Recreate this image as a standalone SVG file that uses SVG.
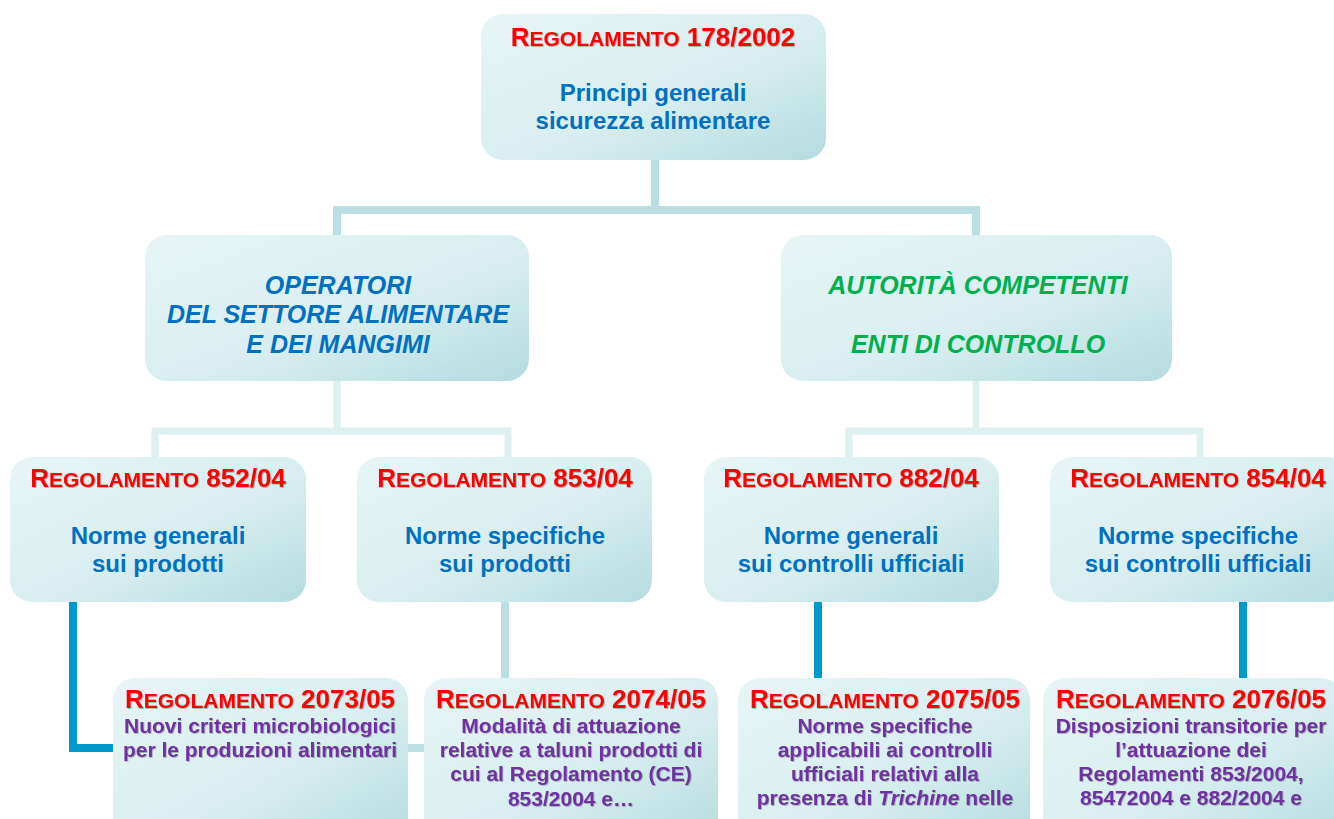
<svg xmlns="http://www.w3.org/2000/svg" width="1334" height="819" viewBox="0 0 1334 819">
<defs>
<linearGradient id="bg" x1="0" y1="0" x2="1" y2="1">
<stop offset="0" stop-color="#e8f5f6"/>
<stop offset="0.55" stop-color="#d8eef0"/>
<stop offset="1" stop-color="#b5dcdf"/>
</linearGradient>
<filter id="sh" x="-5%" y="-20%" width="110%" height="140%">
<feDropShadow dx="0.8" dy="0.8" stdDeviation="0.4" flood-color="#000" flood-opacity="0.3"/>
</filter>
</defs>
<style>
.box{fill:url(#bg);}
text{font-family:"Liberation Sans",Arial,sans-serif;font-weight:bold;text-anchor:middle;}
.t{fill:#ff0000;font-size:26px;filter:url(#sh);}
.sc{font-size:21px;}
.b{fill:#0070c0;font-size:24px;}
.bi{fill:#0070c0;font-size:25px;font-style:italic;}
.gi{fill:#00b050;font-size:25px;font-style:italic;}
.p{fill:#7030a0;font-size:21px;filter:url(#sh);}
.c1{stroke:#b9dfe2;stroke-width:8;fill:none;}
.c2{stroke:#dff0f1;stroke-width:7;fill:none;}
.cb{stroke:#0099cc;stroke-width:8;fill:none;}
</style>
<rect width="1334" height="819" fill="#ffffff"/>
<g id="connectors">
<path class="c1" d="M655 160 V210 M333 210 H980 M337 206 V236 M976 206 V236"/>
<path class="c2" d="M337 381 V431 M152 431 H511 M155 428 V458 M508 428 V458"/>
<path class="c2" d="M976 381 V431 M846 431 H1203 M849 428 V458 M1200 428 V458"/>
<path class="cb" d="M73 602 V748 H115"/>
<path class="c1" d="M505 602 V679"/>
<path class="c1" d="M405 748 H426" stroke-width="7"/>
<path class="cb" d="M818 602 V679"/>
<path class="cb" d="M1243 602 V679"/>
</g>
<g id="n178">
<rect class="box" x="481" y="14" width="345" height="146" rx="22"/>
<text x="653" y="46" class="t">R<tspan class="sc">EGOLAMENTO</tspan> 178/2002</text>
<text x="653" y="101" class="b">Principi generali</text>
<text x="653" y="129" class="b">sicurezza alimentare</text>
</g>
<g id="operatori">
<rect class="box" x="145" y="235" width="384" height="146" rx="22"/>
<text x="338" y="294" class="bi">OPERATORI</text>
<text x="338" y="323" class="bi">DEL SETTORE ALIMENTARE</text>
<text x="338" y="353" class="bi">E DEI MANGIMI</text>
</g>
<g id="autorita">
<rect class="box" x="781" y="235" width="391" height="146" rx="22"/>
<text x="978" y="294" class="gi">AUTORITÀ COMPETENTI</text>
<text x="978" y="353" class="gi">ENTI DI CONTROLLO</text>
</g>
<g id="n852">
<rect class="box" x="10" y="457" width="296" height="145" rx="22"/>
<text x="158" y="487" class="t">R<tspan class="sc">EGOLAMENTO</tspan> 852/04</text>
<text x="158" y="544" class="b">Norme generali</text>
<text x="158" y="572" class="b">sui prodotti</text>
</g>
<g id="n853">
<rect class="box" x="357" y="457" width="295" height="145" rx="22"/>
<text x="505" y="487" class="t">R<tspan class="sc">EGOLAMENTO</tspan> 853/04</text>
<text x="505" y="544" class="b">Norme specifiche</text>
<text x="505" y="572" class="b">sui prodotti</text>
</g>
<g id="n882">
<rect class="box" x="704" y="457" width="295" height="145" rx="22"/>
<text x="851" y="487" class="t">R<tspan class="sc">EGOLAMENTO</tspan> 882/04</text>
<text x="851" y="544" class="b">Norme generali</text>
<text x="851" y="572" class="b">sui controlli ufficiali</text>
</g>
<g id="n854">
<rect class="box" x="1050" y="457" width="300" height="145" rx="22"/>
<text x="1198" y="487" class="t">R<tspan class="sc">EGOLAMENTO</tspan> 854/04</text>
<text x="1198" y="544" class="b">Norme specifiche</text>
<text x="1198" y="572" class="b">sui controlli ufficiali</text>
</g>
<g id="n2073">
<rect class="box" x="113" y="678" width="295" height="170" rx="22"/>
<text x="260" y="708" class="t">R<tspan class="sc">EGOLAMENTO</tspan> 2073/05</text>
<text x="260" y="733" class="p">Nuovi criteri microbiologici</text>
<text x="260" y="757" class="p">per le produzioni alimentari</text>
</g>
<g id="n2074">
<rect class="box" x="424" y="678" width="294" height="170" rx="22"/>
<text x="571" y="708" class="t">R<tspan class="sc">EGOLAMENTO</tspan> 2074/05</text>
<text x="571" y="733" class="p">Modalità di attuazione</text>
<text x="571" y="757" class="p">relative a taluni prodotti di</text>
<text x="571" y="781" class="p">cui al Regolamento (CE)</text>
<text x="571" y="806" class="p">853/2004 e…</text>
</g>
<g id="n2075">
<rect class="box" x="738" y="678" width="292" height="170" rx="22"/>
<text x="885" y="708" class="t">R<tspan class="sc">EGOLAMENTO</tspan> 2075/05</text>
<text x="885" y="733" class="p">Norme specifiche</text>
<text x="885" y="757" class="p">applicabili ai controlli</text>
<text x="885" y="781" class="p">ufficiali relativi alla</text>
<text x="885" y="805" class="p">presenza di <tspan font-style="italic">Trichine</tspan> nelle</text>
</g>
<g id="n2076">
<rect class="box" x="1043" y="678" width="300" height="170" rx="22"/>
<text x="1191" y="708" class="t">R<tspan class="sc">EGOLAMENTO</tspan> 2076/05</text>
<text x="1191" y="733" class="p">Disposizioni transitorie per</text>
<text x="1191" y="757" class="p">l’attuazione dei</text>
<text x="1191" y="781" class="p">Regolamenti 853/2004,</text>
<text x="1191" y="805" class="p">85472004 e 882/2004 e</text>
</g>
</svg>
